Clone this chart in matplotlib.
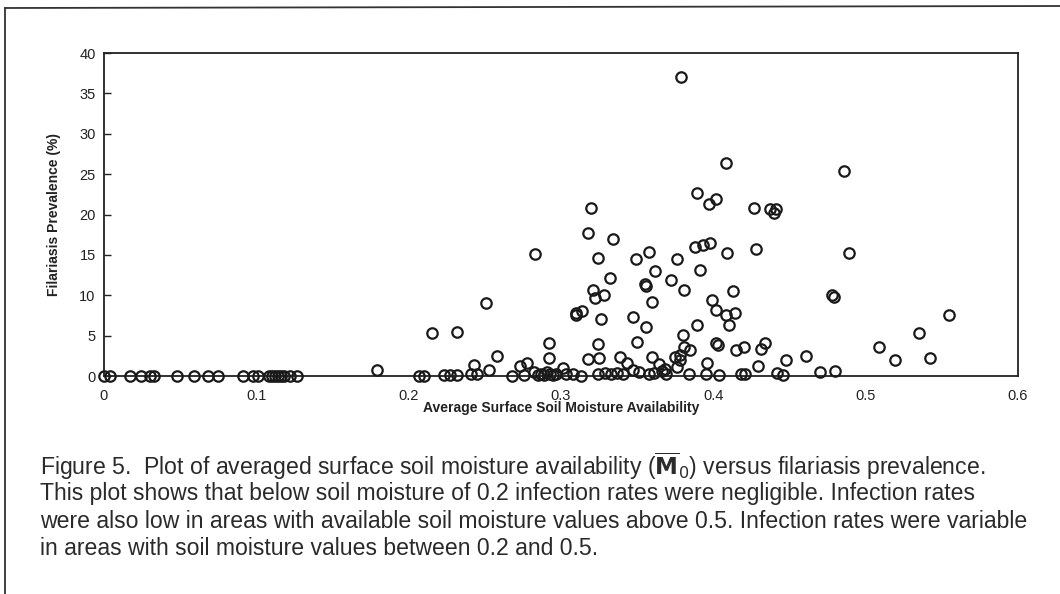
import matplotlib.pyplot as plt
from matplotlib.lines import Line2D

# soil moisture availability vs filariasis prevalence (%)
moisture = [
    0.000, 0.004, 0.017, 0.024, 0.030, 0.033, 0.048, 0.059, 0.068, 0.075,
    0.091, 0.098, 0.101, 0.108, 0.110, 0.112, 0.114, 0.116, 0.118, 0.122,
    0.127, 0.179,
    0.207, 0.210, 0.215, 0.223, 0.227, 0.232, 0.232, 0.241, 0.243, 0.245,
    0.251, 0.253, 0.258, 0.268, 0.273, 0.276, 0.278, 0.283, 0.282, 0.285,
    0.287, 0.289, 0.291, 0.292, 0.292, 0.293, 0.295, 0.297, 0.301, 0.303,
    0.308, 0.310, 0.310, 0.313, 0.314,
    0.318, 0.318, 0.320, 0.321, 0.322, 0.324, 0.324, 0.325, 0.324, 0.326,
    0.328, 0.332, 0.334, 0.329, 0.333, 0.337, 0.339, 0.343, 0.341, 0.347,
    0.347, 0.349, 0.350, 0.351, 0.355, 0.356, 0.356, 0.358, 0.360, 0.360,
    0.362, 0.358, 0.361, 0.364, 0.366, 0.368, 0.369, 0.372, 0.375, 0.376,
    0.376, 0.378, 0.378, 0.379, 0.380, 0.381, 0.381, 0.384, 0.385, 0.388,
    0.389, 0.389, 0.391, 0.393, 0.395, 0.396, 0.397, 0.398, 0.399, 0.402,
    0.402, 0.402, 0.403, 0.404,
    0.408, 0.408, 0.409, 0.410, 0.413, 0.414, 0.415, 0.418, 0.420, 0.421,
    0.427, 0.428, 0.429, 0.431, 0.434, 0.437, 0.441, 0.440, 0.442, 0.446,
    0.448, 0.461, 0.470, 0.478, 0.479, 0.480, 0.486, 0.489, 0.509, 0.519,
    0.535, 0.542, 0.555,
]
prevalence = [
    0.0, 0.0, 0.0, 0.0, 0.0, 0.0, 0.0, 0.0, 0.0, 0.0,
    0.0, 0.0, 0.0, 0.0, 0.0, 0.0, 0.0, 0.0, 0.0, 0.0,
    0.0, 0.7,
    0.0, 0.0, 5.3, 0.1, 0.1, 0.1, 5.4, 0.2, 1.4, 0.2,
    9.0, 0.7, 2.5, 0.0, 1.2, 0.1, 1.6, 15.1, 0.5, 0.1,
    0.3, 0.1, 0.5, 4.1, 2.2, 0.2, 0.1, 0.3, 1.0, 0.2,
    0.3, 7.8, 7.5, 0.0, 8.0,
    17.7, 2.1, 20.8, 10.7, 9.6, 14.6, 4.0, 2.2, 0.2, 7.0,
    10.0, 12.1, 17.0, 0.4, 0.2, 0.4, 2.4, 1.6, 0.3, 7.3,
    0.8, 14.5, 4.2, 0.5, 11.4, 11.2, 6.1, 15.4, 9.2, 2.4,
    13.0, 0.2, 0.4, 1.5, 0.6, 0.9, 0.2, 11.9, 2.3, 14.5,
    1.1, 2.6, 2.0, 37.0, 5.1, 10.7, 3.6, 0.3, 3.2, 16.0,
    22.7, 6.3, 13.1, 16.2, 0.3, 1.6, 21.3, 16.5, 9.4, 21.9,
    8.2, 4.1, 3.8, 0.1,
    26.4, 7.6, 15.2, 6.3, 10.5, 7.8, 3.2, 0.2, 3.6, 0.2,
    20.8, 15.7, 1.2, 3.4, 4.1, 20.7, 20.7, 20.2, 0.4, 0.1,
    2.0, 2.5, 0.5, 10.0, 9.8, 0.6, 25.4, 15.2, 3.6, 2.0,
    5.3, 2.2, 7.6,
]

x_ticks = [0, 0.1, 0.2, 0.3, 0.4, 0.5, 0.6]
x_labels = ["0", "0.1", "0.2", "0.3", "0.4", "0.5", "0.6"]
y_ticks = [0, 5, 10, 15, 20, 25, 30, 35, 40]

plt.rcParams['font.family'] = ['Liberation Sans', 'DejaVu Sans']

fig = plt.figure(figsize=(10.6, 5.94), dpi=100)
ax = fig.add_axes([0.0981, 0.367, 0.8623, 0.5437])

ax.plot(moisture, prevalence, linestyle='none', marker='o', markersize=7.5,
        markerfacecolor='none', markeredgecolor='#1a1a1a', markeredgewidth=1.6,
        clip_on=False, zorder=3)

ax.set_xlim(0, 0.6)
ax.set_ylim(0, 40)
ax.set_xticks(x_ticks)
ax.set_xticklabels(x_labels)
ax.set_yticks(y_ticks)
ax.tick_params(axis='both', direction='in', length=5, width=1, labelsize=10.5,
               colors='#222222', pad=6)
ax.tick_params(axis='x', length=0, pad=9)
for s in ax.spines.values():
    s.set_linewidth(1.3)
    s.set_color('#222222')

ax.set_xlabel("Average Surface Soil Moisture Availability", fontsize=10,
              fontweight='bold', labelpad=-1, color='#222222')
ax.set_ylabel("Filariasis Prevalence (%)", fontsize=10, fontweight='bold',
              labelpad=13, color='#222222')

caption = [
    r"Figure 5.  Plot of averaged surface soil moisture availability ($\overline{\mathbf{M}}_0$) versus filariasis prevalence.",
    "This plot shows that below soil moisture of 0.2 infection rates were negligible. Infection rates",
    "were also low in areas with available soil moisture values above 0.5. Infection rates were variable",
    "in areas with soil moisture values between 0.2 and 0.5.",
]
for i, line in enumerate(caption):
    fig.text(40 / 1060, 1 - (466 + i * 27.5) / 594, line, fontsize=16.6,
             va='center', ha='left', color='#2a2a2a')

# outer frame of the scanned figure
fig.add_artist(Line2D([5 / 1060, 5 / 1060], [0, 1 - 8 / 594],
                      transform=fig.transFigure, color='#333333', lw=1.3))
fig.add_artist(Line2D([5 / 1060, 1], [1 - 8 / 594, 1 - 6 / 594],
                      transform=fig.transFigure, color='#333333', lw=1.3))

fig.savefig("out.png", dpi=100)
